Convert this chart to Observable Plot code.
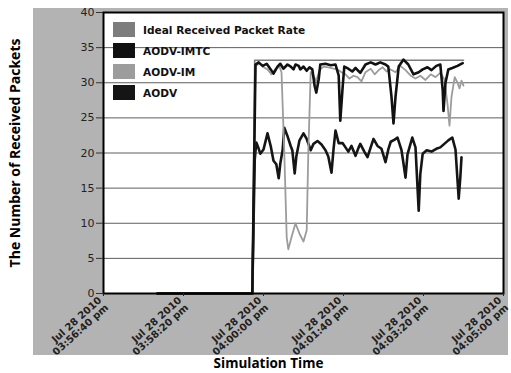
<!DOCTYPE html>
<html>
<head>
<meta charset="utf-8">
<script src="https://cdn.jsdelivr.net/npm/d3@7"></script>
<script src="https://cdn.jsdelivr.net/npm/@observablehq/plot@0.6"></script>
<style>
  html, body { margin: 0; padding: 0; background: #fff; }
  #wrap { position: relative; width: 511px; height: 373px; overflow: hidden; }
  #panel { position: absolute; left: 33px; top: 8px; width: 475px; height: 347px; background: #b3b3b3; }
  #chart { position: absolute; left: 0; top: 0; }
  #legend { position: absolute; left: 113px; top: 19px; font-family: "DejaVu Sans", sans-serif; font-weight: bold; font-size: 10.6px; color: #111; }
  .row { display: flex; align-items: center; height: 21px; }
  .sw { width: 22px; height: 15px; margin-right: 8px; }
</style>
</head>
<body>
<div id="wrap">
  <div id="panel"></div>
  <div id="chart"></div>
  <div id="legend"></div>
</div>
<script>
// Series names and colours
const seriesNames = ["Ideal Received Packet Rate", "AODV-IMTC", "AODV-IM", "AODV"];
const seriesColors = ["#7d7d7d", "#111111", "#9c9c9c", "#151515"];

// x tick positions (seconds after 03:56:40 pm) and their labels
const tickSeconds = [0, 100, 200, 300, 400, 500];
const tickLabels = [
  "Jul 28 2010\n03:56:40 pm", "Jul 28 2010\n03:58:20 pm", "Jul 28 2010\n04:00:00 pm",
  "Jul 28 2010\n04:01:40 pm", "Jul 28 2010\n04:03:20 pm", "Jul 28 2010\n04:05:00 pm"
];
const yTicks = [0, 5, 10, 15, 20, 25, 30, 35, 40];

// Ideal Received Packet Rate
const idealT = [67.5, 186, 189, 450];
const idealV = [0, 0, 33.2, 33.2];

// AODV-IMTC
const imtcT = [67.5, 186, 190, 194, 199, 204, 209, 212.5, 217.5, 221, 225, 230, 234, 237.5, 240, 244, 246, 250, 254, 257.5, 261, 264, 266, 269, 271, 277.5, 284, 290, 294, 296, 299, 301, 306, 311, 315, 321, 327.5, 334, 340, 346, 352.5, 356, 360, 362.5, 365, 369, 375, 381, 387.5, 394, 399, 405, 410, 416, 421, 424, 425, 427.5, 431, 436, 442.5, 449];
const imtcV = [0, 0, 32.6, 32.9, 32.4, 32.7, 31.9, 31.3, 32.3, 32.7, 32.0, 32.6, 32.3, 31.9, 32.6, 32.4, 31.9, 32.3, 31.7, 32.2, 31.9, 29.5, 28.6, 30.5, 32.6, 32.7, 32.5, 32.6, 31.0, 24.6, 29.5, 32.3, 32.0, 31.6, 32.1, 31.4, 32.6, 32.9, 32.6, 32.9, 32.6, 32.3, 28.0, 24.2, 28.0, 32.3, 33.3, 32.6, 31.2, 31.5, 31.9, 32.2, 31.8, 32.4, 32.6, 29.0, 26.0, 30.0, 31.9, 32.1, 32.4, 32.8];

// AODV-IM
const imT = [67.5, 186, 190, 195, 200, 205, 210, 215, 220, 222.5, 226, 229, 231, 235, 240, 245, 250, 254, 256, 259, 262.5, 266, 270, 275, 281, 287.5, 292.5, 297.5, 302.5, 307.5, 312.5, 317.5, 322.5, 327.5, 334, 339, 344, 349, 354, 359, 365, 371, 377.5, 384, 390, 396, 402.5, 409, 415, 421, 426, 430, 432.5, 435, 439, 442.5, 445, 447.5, 450];
const imV = [0, 0, 32.4, 32.7, 32.2, 31.9, 31.2, 32.0, 32.3, 31.5, 20, 8, 6.3, 8, 10.0, 8.5, 7.4, 9, 20, 31.5, 31.0, 30.2, 31.8, 32.3, 32.2, 32.0, 31.9, 31.5, 31.2, 30.6, 31.0, 30.8, 30.2, 31.5, 32.0, 31.2, 31.8, 32.2, 31.6, 31.9, 31.5, 32.4, 31.8, 31.0, 30.6, 31.0, 30.4, 31.2, 30.8, 31.4, 30.5, 27, 23.9, 28, 30.8, 30.0, 29.2, 30.3, 29.6];

// AODV
const aodvT = [67.5, 186, 189, 191, 194, 196, 200, 205, 209, 212.5, 216, 219, 221, 224, 226, 230, 234, 236, 239, 241, 245, 250, 254, 259, 262.5, 267.5, 272.5, 277.5, 281, 285, 287.5, 290, 294, 299, 302.5, 306, 310, 315, 319, 321, 326, 330, 334, 337.5, 342.5, 347.5, 352.5, 356, 359, 364, 367.5, 372.5, 375, 377.5, 380, 384, 386, 390, 394, 396, 399, 404, 410, 416, 421, 426, 431, 436, 440, 444, 446, 447.5];
const aodvV = [0, 0, 19, 21.5, 20.6, 19.9, 20.5, 22.8, 21.0, 18.9, 18.4, 16.4, 18.5, 20.5, 23.6, 22.4, 21.0, 20.4, 17.1, 19.5, 21.8, 22.8, 22.0, 20.4, 21.3, 21.7, 21.2, 20.4, 19.5, 17.2, 20.5, 23.2, 21.4, 21.4, 20.8, 20.2, 21.0, 19.6, 20.8, 21.3, 20.2, 19.4, 20.8, 22.0, 21.0, 20.6, 18.7, 20.5, 21.6, 21.9, 22.2, 20.4, 18.5, 16.5, 19.8, 21.4, 22.2, 20.8, 11.8, 17, 19.9, 20.4, 20.2, 20.6, 20.8, 21.3, 21.8, 22.2, 20.5, 13.5, 16.5, 19.4];

const pts = (t, v) => t.map((d, i) => ({t: d, v: v[i]}));

const chart = Plot.plot({
  width: 511,
  height: 373,
  marginLeft: 103,
  marginRight: 8,
  marginTop: 12,
  marginBottom: 80,
  style: {background: "transparent", fontFamily: "DejaVu Sans, sans-serif"},
  x: {domain: [0, 500]},
  y: {domain: [0, 40]},
  marks: [
    Plot.frame({fill: "white", stroke: null}),
    Plot.gridY(yTicks, {stroke: "#5e5e5e", strokeOpacity: 1, strokeWidth: 1}),
    Plot.line(pts(idealT, idealV), {x: "t", y: "v", stroke: seriesColors[0], strokeWidth: 1.6}),
    Plot.line(pts(aodvT, aodvV), {x: "t", y: "v", stroke: seriesColors[3], strokeWidth: 2.6}),
    Plot.line(pts(imT, imV), {x: "t", y: "v", stroke: seriesColors[2], strokeWidth: 1.8}),
    Plot.line(pts(imtcT, imtcV), {x: "t", y: "v", stroke: seriesColors[1], strokeWidth: 2.6}),
    Plot.frame({stroke: "#000", strokeWidth: 2}),
    Plot.axisY(yTicks, {
      tickSize: 7, tickPadding: 2, fontSize: 11, color: "#222", stroke: "#333",
      label: null
    }),
    Plot.axisX(tickSeconds, {
      tickSize: 3, tickPadding: 6, tickRotate: -42, fontSize: 10, fontWeight: "bold",
      color: "#222", tickFormat: (d, i) => tickLabels[i], label: null
    }),
    Plot.text(["The Number of Received Packets"], {
      frameAnchor: "left", textAnchor: "middle", rotate: -90, dx: -88, fontSize: 14, fontWeight: "bold",
      fontFamily: "Open Sans, sans-serif", fill: "#000"
    }),
    Plot.text(["Simulation Time"], {
      frameAnchor: "bottom", dx: -35, dy: 74, fontSize: 13.5, fontWeight: "bold",
      fontFamily: "Open Sans, sans-serif", fill: "#000"
    })
  ]
});
document.getElementById("chart").appendChild(chart);

const legend = document.getElementById("legend");
seriesNames.forEach((name, i) => {
  const row = document.createElement("div");
  row.className = "row";
  const sw = document.createElement("div");
  sw.className = "sw";
  sw.style.background = seriesColors[i];
  const label = document.createElement("span");
  label.textContent = name;
  row.appendChild(sw);
  row.appendChild(label);
  legend.appendChild(row);
});
</script>
</body>
</html>
